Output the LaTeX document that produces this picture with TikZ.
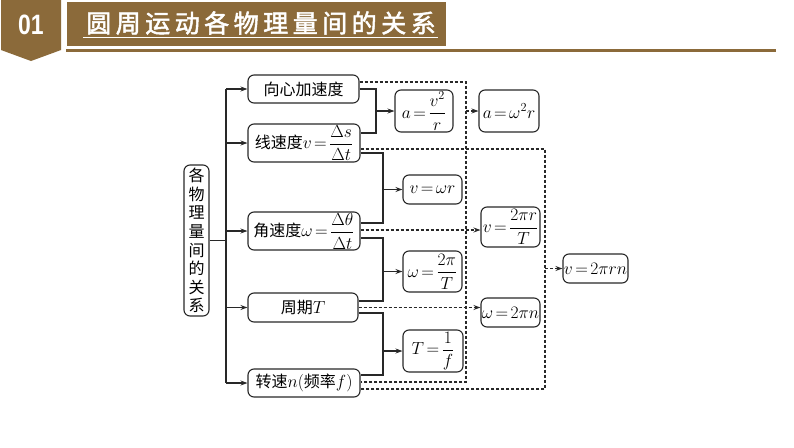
\RequirePackage{fix-cm}
\documentclass[tikz,border=0pt]{standalone}
\usepackage{amsmath}
\usepackage{fontspec}
\newfontfamily\cjk{Noto Sans CJK SC}
\newfontfamily\cjktitle[FakeBold=2,LetterSpace=18]{Noto Sans CJK SC}
\newfontfamily\numfont{Liberation Sans}
\newcommand\zh[1]{{\cjk\fontsize{16}{18}\selectfont #1}}
\newcommand\tightrel{\thickmuskip=2.5mu plus 1mu\relax}
\usetikzlibrary{arrows.meta}
\definecolor{brownA}{RGB}{139,106,58}
\definecolor{ink}{RGB}{40,40,40}
\begin{document}
\begin{tikzpicture}[x=1pt,y=-1pt,
  box/.style={draw=ink, line width=1.1pt, rounded corners=6pt, inner sep=0pt,
    font=\fontsize{17.5}{20}\selectfont\tightrel},
  link/.style={draw=ink, line width=1.1pt},
  dlink/.style={draw=ink, line width=1.1pt, dash pattern=on 3pt off 2pt},
  tip/.style={-{Stealth[length=7pt,width=5pt]}}]
\useasboundingbox (0,0) rectangle (794,447);
\fill[white] (0,0) rectangle (794,447);
% header
\fill[brownA] (1,0) -- (61,0) -- (61,50) -- (31,61) -- (1,50) -- cycle;
\node[text=white, font=\numfont\bfseries\fontsize{28}{30}\selectfont, inner sep=0pt] (num) at (31,25) {\scalebox{0.82}[1]{01}};
\fill[brownA] (67,2) rectangle (446,46);
\node[text=white, font=\cjktitle\fontsize{25}{30}\selectfont, inner sep=0pt] (title) at (261,23) {圆周运动各物理量间的关系};
\draw[white, line width=1.8pt] (83,37.5) -- (438,37.5);
\fill[brownA] (66,48.5) rectangle (776,52);
% nodes
\node[box, minimum width=25pt, minimum height=151pt, align=center,
  font=\cjk\fontsize{16}{18.6}\selectfont] (L) at (196.5,240.5)
  {各\\物\\理\\量\\间\\的\\关\\系};
\node[box, minimum width=111pt, minimum height=28pt] (A1) at (303.5,89) {\zh{向心加速度}};
\node[box, minimum width=112pt, minimum height=38pt] (A2) at (304,143) {\zh{线速度}$v=\dfrac{\Delta s}{\Delta t}$};
\node[box, minimum width=112pt, minimum height=38pt] (A3) at (304,231) {\zh{角速度}$\omega=\dfrac{\Delta\theta}{\Delta t}$};
\node[box, minimum width=110pt, minimum height=29pt] (A4) at (303,307.5) {\zh{周期}$T$};
\node[box, minimum width=112pt, minimum height=28pt] (A5) at (304,383) {\zh{转速}$n$(\zh{频率}$f$)};
\node[box, minimum width=58pt, minimum height=42pt] (B1) at (424,111) {$a=\dfrac{v^2}{r}$};
\node[box, minimum width=59pt, minimum height=29pt] (B2) at (432.5,189.5) {$v=\omega r$};
\node[box, minimum width=59pt, minimum height=41pt] (B3) at (432.5,271.5) {$\omega=\dfrac{2\pi}{T}$};
\node[box, minimum width=60pt, minimum height=42pt] (B4) at (433,351) {$T=\dfrac{1}{f}$};
\node[box, minimum width=60pt, minimum height=42pt] (C1) at (509,111) {$a=\omega^2 r$};
\node[box, minimum width=59pt, minimum height=40pt] (C2) at (510.5,227) {$v=\dfrac{2\pi r}{T}$};
\node[box, minimum width=59pt, minimum height=29pt] (C3) at (510.5,312.5) {$\omega=2\pi n$};
\node[box, minimum width=65pt, minimum height=29pt] (D) at (595.5,268.5) {$v=2\pi rn$};
% trunk
\coordinate (t) at (226,240);
\draw[link] (L.east) -- (L.east -| t);
\draw[link] (t |- A1.west) -- (t |- A5.west);
\foreach \n in {A1,A2,A3,A4,A5} \draw[link,tip] (t |- \n.west) -- (\n.west);
% solid brackets
\coordinate (j1) at (376,111);
\draw[link] (A1.east) -| (j1) |- ([yshift=10pt]A2.east);
\draw[link,tip] (j1) -- (B1.west);
\coordinate (j2) at (383,189.5);
\draw[link] ([yshift=-10pt]A2.east) -| (j2) |- ([yshift=8pt]A3.east);
\draw[link,tip] (j2) -- (B2.west);
\coordinate (j3) at (383,271.5);
\draw[link] ([yshift=-7pt]A3.east) -| (j3) |- ([yshift=6.5pt]A4.east);
\draw[link,tip] (j3) -- (B3.west);
\coordinate (j4) at (383,351);
\draw[link] ([yshift=-5.5pt]A4.east) -| (j4) |- ([yshift=8pt]A5.east);
\draw[link,tip] (j4) -- (B4.west);
% dashed inner loop
\coordinate (k1) at (466,111);
\draw[dlink] ([yshift=7pt]A1.east) -| (k1) |- ([yshift=1pt]A5.east);
\draw[dlink,tip] (k1) -- (C1.west);
% dashed outer loop
\coordinate (k2) at (545,268.5);
\draw[dlink] ([yshift=-6pt]A2.east) -| (k2) |- ([yshift=-6pt]A5.east);
\draw[dlink,tip] (k2) -- (D.west);
% dashed straight arrows
\draw[dlink,tip] ([yshift=1pt]A3.east) -- ([yshift=1pt]A3.east -| C2.west);
\draw[dlink,tip] (A4.east) -- (A4.east -| C3.west);
\end{tikzpicture}
\end{document}
